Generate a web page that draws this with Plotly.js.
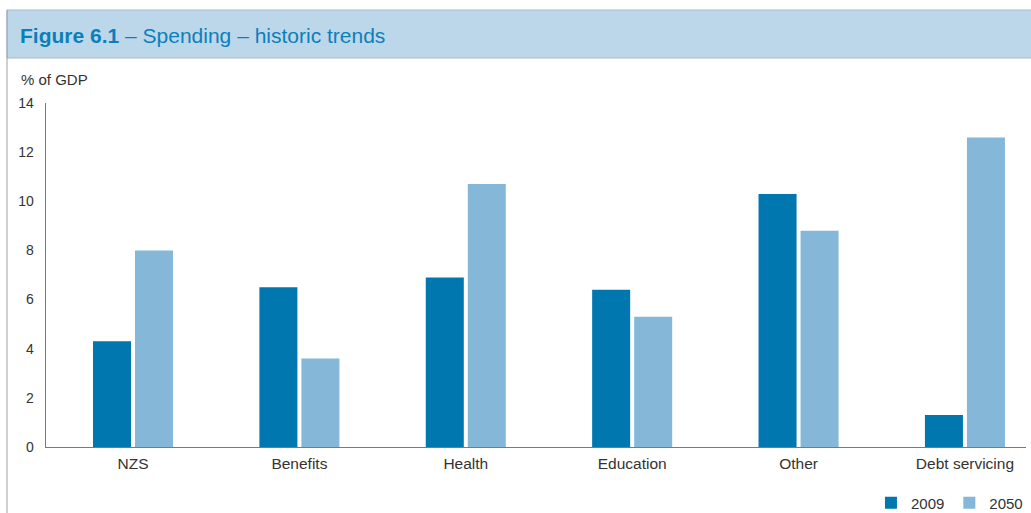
<!DOCTYPE html>
<html>
<head>
<meta charset="utf-8">
<script src="https://cdn.plot.ly/plotly-3.0.1.min.js"></script>
<style>
html,body{margin:0;padding:0;background:#fff;}
#chart{width:1031px;height:513px;}
</style>
</head>
<body>
<div id="chart"></div>
<script>
const categories = ["NZS", "Benefits", "Health", "Education", "Other", "Debt servicing"];
const values2009 = [4.3, 6.5, 6.9, 6.4, 10.3, 1.3];
const values2050 = [8.0, 3.6, 10.7, 5.3, 8.8, 12.6];
const seriesNames = ["2009", "2050"];
const yTicks = [0, 2, 4, 6, 8, 10, 12, 14];

const FONT = "Liberation Sans, Arial, Helvetica, sans-serif";
const TXT = "#333333";
const AXIS = "#6d7d8b";

const traces = [
  {type: "bar", name: seriesNames[0], x: categories, y: values2009,
   marker: {color: "#0077ae"}, hoverinfo: "x+y+name"},
  {type: "bar", name: seriesNames[1], x: categories, y: values2050,
   marker: {color: "#85b8d8"}, hoverinfo: "x+y+name"}
];

const layout = {
  width: 1031, height: 513,
  margin: {l: 46, r: 5, t: 103, b: 66, pad: 0, autoexpand: false},
  paper_bgcolor: "#ffffff", plot_bgcolor: "#ffffff",
  font: {family: FONT, color: TXT, size: 15},
  barmode: "group",
  bargap: 0.495,
  bargroupgap: 0.095,
  showlegend: true,
  legend: {orientation: "h", x: 1.002, xanchor: "right", y: -0.163, yanchor: "middle",
           font: {size: 15, color: TXT}, bgcolor: "rgba(0,0,0,0)", itemwidth: 30, tracegroupgap: 0},
  title: {
    text: "<b>Figure 6.1</b> – Spending – historic trends",
    font: {family: FONT, size: 21, color: "#0a80ba"},
    x: 20/1031, xref: "container", xanchor: "left",
    y: 1 - 36/513, yref: "container", yanchor: "middle"
  },
  xaxis: {
    type: "category",
    range: [-0.523, 5.367],
    showline: true, linecolor: AXIS, linewidth: 1.3,
    ticks: "", showgrid: false, zeroline: false,
    tickfont: {size: 15.5, color: TXT},
    ticklabelstandoff: 2,
    fixedrange: true
  },
  yaxis: {
    range: [0, 14],
    tickvals: yTicks,
    ticktext: yTicks.map(String),
    showline: true, linecolor: AXIS, linewidth: 1.3,
    ticks: "", showgrid: false, zeroline: false,
    tickfont: {size: 14, color: TXT},
    ticklabelstandoff: 8,
    fixedrange: true
  },
  shapes: [
    {type: "rect", xref: "paper", yref: "paper",
     x0: -39/980, x1: 990/980, y0: 389/344, y1: 437/344,
     fillcolor: "#bdd7ea", line: {color: "#a9b9c6", width: 1}, layer: "below"},
    {type: "line", xref: "paper", yref: "paper",
     x0: -39/980, x1: -39/980, y0: -70/344, y1: 437/344,
     line: {color: "#9aa3aa", width: 1}}
  ],
  annotations: [
    {text: "% of GDP", xref: "paper", yref: "paper",
     x: -27/980, xanchor: "left", y: (447-79)/344, yanchor: "middle",
     showarrow: false, font: {size: 15, color: TXT}}
  ]
};

Plotly.newPlot("chart", traces, layout, {displayModeBar: false, staticPlot: true});
</script>
</body>
</html>
